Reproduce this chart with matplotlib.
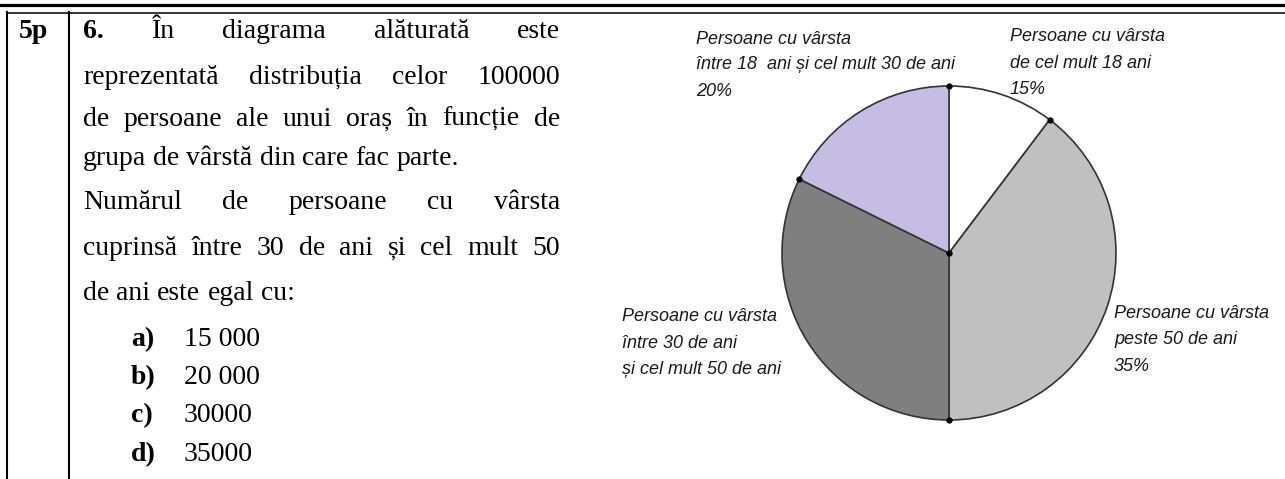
import matplotlib
matplotlib.use('Agg')
import matplotlib.pyplot as plt
import numpy as np

# slice order: clockwise from the top, as drawn in the picture
groups = ['de cel mult 18 ani', 'peste 50 de ani', 'intre 30 si 50 de ani', 'intre 18 si 30 de ani']
shares = [10.3, 39.7, 32.3, 17.7]     # drawn share of each slice (%)
colors = ['#ffffff', '#c0c0c0', '#7f7f7f', '#c5bde3']

label_tl = ['Persoane cu vârsta', 'între 18  ani și cel mult 30 de ani', '20%']
label_tr = ['Persoane cu vârsta', 'de cel mult 18 ani', '15%']
label_bl = ['Persoane cu vârsta', 'între 30 de ani', 'și cel mult 50 de ani']
label_br = ['Persoane cu vârsta', 'peste 50 de ani', '35%']

question = [
    ('6. În diagrama alăturată este', True),
    ('reprezentată distribuția celor 100000', True),
    ('de persoane ale unui oraș în funcție de', True),
    ('grupa de vârstă din care fac parte.', False),
    ('Numărul de persoane cu vârsta', True),
    ('cuprinsă între 30 de ani și cel mult 50', True),
    ('de ani este egal cu:', False),
]
options = ['a)', 'b)', 'c)', 'd)']
answers = ['15 000', '20 000', '30000', '35000']

W, H = 1285, 479
fig = plt.figure(figsize=(W / 100, H / 100), dpi=100)
ax = fig.add_axes([0, 0, 1, 1])
Y = lambda py: H - py

# page frame
ax.plot([0, W], [Y(4.5), Y(4.5)], color='black', lw=2.3)
ax.plot([7, W], [Y(12.5), Y(12.5)], color='black', lw=1.1)
ax.plot([7, 7], [Y(12), 0], color='black', lw=1.5)
ax.plot([69, 69], [Y(12), 0], color='black', lw=1.5)

serif = 'Liberation Serif'
fs = 20
rend = fig.canvas.get_renderer()

ax.text(19, Y(30) - 8, '5p', fontsize=fs, family=serif, fontweight='bold', va='baseline')

line_y = [30, 76, 118, 157, 201, 247, 292]
x0, x1 = 83, 560
for (line, just), py in zip(question, line_y):
    words = line.split(' ')
    ts = []
    for i, w in enumerate(words):
        bold = line.startswith('6.') and i == 0
        ts.append(ax.text(0, Y(py) - 8, w, fontsize=fs, family=serif,
                          fontweight='bold' if bold else 'normal', va='baseline'))
    widths = [t.get_window_extent(rend).width for t in ts]
    if just:
        gap = (x1 - x0 - sum(widths)) / (len(words) - 1)
    else:
        gap = 7
    x = x0
    for t, w in zip(ts, widths):
        t.set_x(x)
        x += w + gap

opt_y = [338, 376, 414, 453]
for o, a, py in zip(options, answers, opt_y):
    ax.text(131, Y(py) - 8, o, fontsize=fs, family=serif, fontweight='bold', va='baseline')
    ax.text(184, Y(py) - 8, a, fontsize=fs, family=serif, va='baseline')

# pie
cx, cy, r = 949, Y(253), 167
wedges, _ = ax.pie(shares, colors=colors, startangle=90, counterclock=False,
                   center=(cx, cy), radius=r, frame=True,
                   wedgeprops=dict(edgecolor='#333333', linewidth=1.2))
ax.set_xlim(0, W)
ax.set_ylim(0, H)
ax.set_aspect('equal')
ax.axis('off')
for wd in wedges:
    a = np.deg2rad(wd.theta1)
    ax.plot(cx + r * np.cos(a), cy + r * np.sin(a), 'o', color='black', ms=3.5, zorder=5)
ax.plot(cx, cy, 'o', color='black', ms=3.5, zorder=5)

lab = dict(fontsize=13, family='Liberation Sans', style='italic', color='#1a1a1a', va='baseline')
def block(x, ys, lines):
    for py, s in zip(ys, lines):
        ax.text(x, Y(py) - 6, s, **lab)

block(696, [38, 63, 90], label_tl)
block(1010, [35, 62, 88], label_tr)
block(622, [315, 342, 368], label_bl)
block(1114, [312, 338, 365], label_br)

fig.savefig('out.png', dpi=100)
